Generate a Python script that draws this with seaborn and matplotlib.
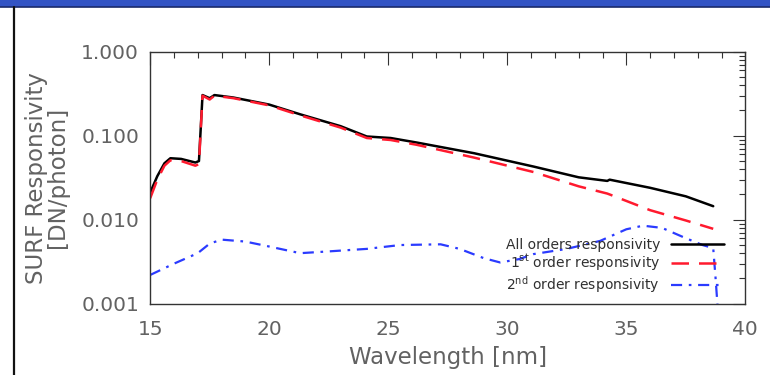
import matplotlib
matplotlib.use("Agg")
import matplotlib.pyplot as plt
import seaborn as sns
import pandas as pd
from matplotlib.patches import Rectangle
from matplotlib.lines import Line2D
from matplotlib.ticker import LogLocator, MultipleLocator, FixedLocator

# Wavelength grid [nm] and responsivities [DN/photon]
wl_all = [15.0, 15.3, 15.6, 15.85, 16.3, 16.9, 17.05, 17.2, 17.5, 17.7, 18.5,
          20.0, 21.3, 23.0, 24.1, 25.1, 26.2, 28.6, 31.1, 33.0, 34.2, 34.3,
          36.0, 37.5, 38.65]
resp_all = [0.021, 0.033, 0.047, 0.054, 0.053, 0.048, 0.050, 0.305, 0.28, 0.305,
            0.285, 0.235, 0.18, 0.13, 0.098, 0.094, 0.083, 0.062, 0.043, 0.032,
            0.029, 0.030, 0.024, 0.019, 0.0145]

wl_first = wl_all
resp_first = [0.018, 0.030, 0.044, 0.051, 0.050, 0.044, 0.046, 0.30, 0.27, 0.30,
              0.28, 0.23, 0.175, 0.125, 0.094, 0.089, 0.078, 0.055, 0.037, 0.025,
              0.0205, 0.020, 0.013, 0.0098, 0.0078]

wl_second = [15.0, 16.0, 17.0, 17.5, 18.0, 19.0, 20.0, 21.3, 22.5, 24.1, 25.5,
             27.2, 28.0, 29.0, 29.7, 30.5, 31.1, 32.5, 33.9, 35.0, 35.7, 36.5,
             37.4, 38.2, 38.65, 38.75, 38.85]
resp_second = [0.0022, 0.0030, 0.0040, 0.0052, 0.0058, 0.0055, 0.0048, 0.0040,
               0.0042, 0.0045, 0.0050, 0.0051, 0.0045, 0.0035, 0.0031, 0.0034,
               0.0039, 0.0045, 0.0056, 0.0077, 0.0085, 0.0080, 0.0062, 0.0050,
               0.0046, 0.0020, 0.0008]

labels = ["All orders responsivity",
          r"1$^{\rm st}$ order responsivity",
          r"2$^{\rm nd}$ order responsivity"]
y_ticks = [0.001, 0.01, 0.1, 1.0]
y_tick_labels = ["0.001", "0.010", "0.100", "1.000"]
x_ticks = [15, 20, 25, 30, 35, 40]

sns.set_theme(style="white")
plt.rcParams["font.family"] = ["DejaVu Sans"]
text_color = "#626262"

fig = plt.figure(figsize=(7.70, 3.75), dpi=100)
ax = fig.add_axes([0.195, 0.19, 0.773, 0.672])

df_all = pd.DataFrame({"wl": wl_all, "r": resp_all})
df_first = pd.DataFrame({"wl": wl_first, "r": resp_first})
df_second = pd.DataFrame({"wl": wl_second, "r": resp_second})

sns.lineplot(data=df_all, x="wl", y="r", ax=ax, color="black", lw=1.8,
             estimator=None, sort=False)
sns.lineplot(data=df_first, x="wl", y="r", ax=ax, color="#ff1a2e", lw=1.8,
             estimator=None, sort=False)
ax.lines[-1].set_dashes([7, 4])
sns.lineplot(data=df_second, x="wl", y="r", ax=ax, color="#2b3bff", lw=1.6,
             estimator=None, sort=False)
ax.lines[-1].set_dashes([5, 3, 1.2, 3])

ax.set_yscale("log")
ax.set_xlim(15, 40)
ax.set_ylim(0.001, 1.0)

ax.yaxis.set_major_locator(FixedLocator(y_ticks))
ax.set_yticklabels(y_tick_labels)
ax.yaxis.set_minor_locator(LogLocator(base=10, subs=range(2, 10)))
ax.xaxis.set_major_locator(FixedLocator(x_ticks))
ax.xaxis.set_minor_locator(MultipleLocator(1))

ax.tick_params(which="both", direction="in", top=True, right=True,
               colors="#333333", labelcolor=text_color, labelsize=14.5, width=0.8)
ax.tick_params(which="major", length=9)
ax.tick_params(axis="x", which="major", pad=12)
ax.tick_params(axis="y", which="major", pad=8)
ax.tick_params(which="minor", length=4.5)
for s in ax.spines.values():
    s.set_color("#333333")
    s.set_linewidth(1.0)

ax.set_xlabel("Wavelength [nm]", fontsize=16.5, color=text_color, labelpad=5)
ax.set_ylabel("SURF Responsivity\n[DN/photon]", fontsize=16.5, color=text_color,
              linespacing=0.85, labelpad=9)

handles = [Line2D([], [], color="black", lw=1.8),
           Line2D([], [], color="#ff1a2e", lw=1.8, dashes=[7, 4]),
           Line2D([], [], color="#2b3bff", lw=1.6, dashes=[5, 3, 1.2, 3])]
leg = ax.legend(handles, labels, loc="lower right", bbox_to_anchor=(0.985, -0.015),
                frameon=False, markerfirst=False, fontsize=10,
                handlelength=3.8, handletextpad=0.8, labelspacing=0.05)
for t in leg.get_texts():
    t.set_color("#303030")

# Slide frame: blue banner along the top and dark rule on the left
fig.patches.append(Rectangle((0, 0.981), 1, 0.019, transform=fig.transFigure,
                             facecolor="#3253c4", edgecolor="none"))
fig.lines.append(Line2D([0, 1], [0.981, 0.981], transform=fig.transFigure,
                        color="#1a2a6a", lw=1.2))
fig.lines.append(Line2D([0.0185, 0.0185], [0, 0.981], transform=fig.transFigure,
                        color="#111111", lw=1.6))

fig.savefig("out.png", dpi=100)
